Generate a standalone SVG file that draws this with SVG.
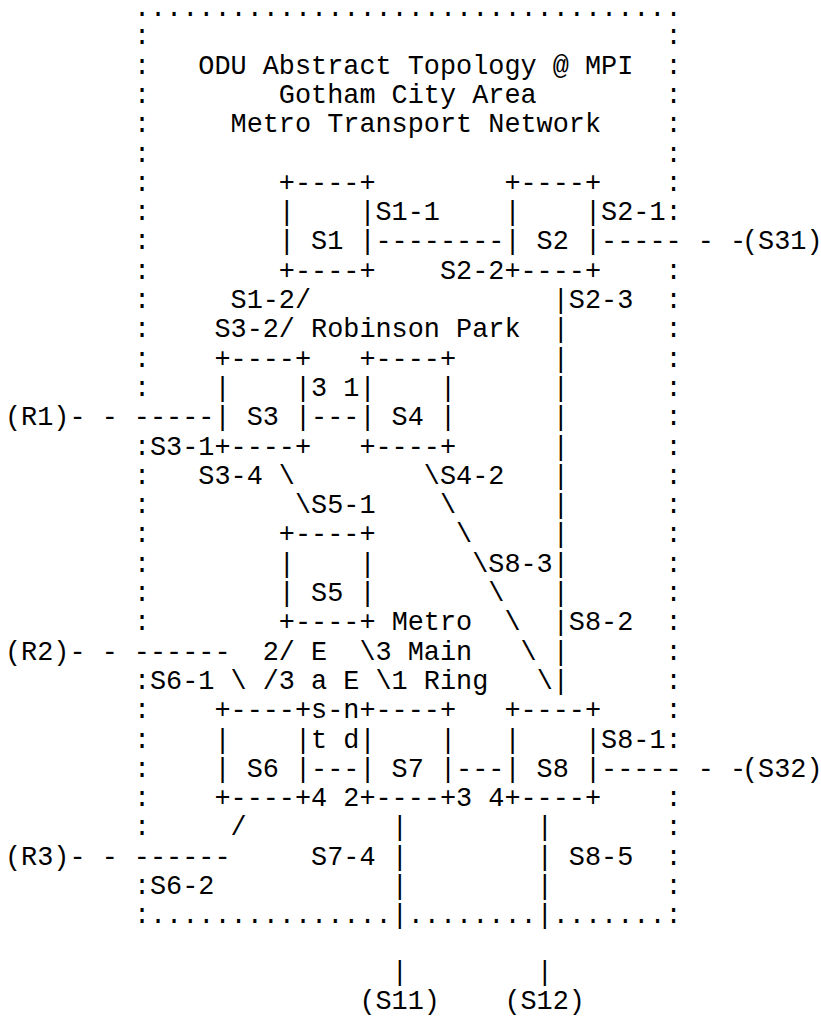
<svg xmlns="http://www.w3.org/2000/svg" width="821" height="1017" viewBox="0 0 821 1017" xml:space="preserve">
<style>
text { font-family: "Liberation Mono", "Courier New", monospace; font-size: 26.85px; fill: #000; white-space: pre; }
</style>
<rect width="821" height="1017" fill="#fff"/>
<g id="frame">
<text>
<tspan x="133.88" y="16">..................................</tspan>
<tspan x="133.88" y="44.3">:</tspan><tspan x="665.51" y="44.3">:</tspan>
<tspan x="133.88" y="73.6">:</tspan><tspan x="665.51" y="73.6">:</tspan>
<tspan x="133.88" y="102.9">:</tspan><tspan x="665.51" y="102.9">:</tspan>
<tspan x="133.88" y="132.2">:</tspan><tspan x="665.51" y="132.2">:</tspan>
<tspan x="133.88" y="161.5">:</tspan><tspan x="665.51" y="161.5">:</tspan>
<tspan x="133.88" y="190.8">:</tspan><tspan x="665.51" y="190.8">:</tspan>
<tspan x="133.88" y="220.1">:</tspan><tspan x="665.51" y="220.1">:</tspan>
<tspan x="133.88" y="249.4">:</tspan>
<tspan x="133.88" y="278.7">:</tspan><tspan x="665.51" y="278.7">:</tspan>
<tspan x="133.88" y="308">:</tspan><tspan x="665.51" y="308">:</tspan>
<tspan x="133.88" y="337.3">:</tspan><tspan x="665.51" y="337.3">:</tspan>
<tspan x="133.88" y="366.6">:</tspan><tspan x="665.51" y="366.6">:</tspan>
<tspan x="133.88" y="395.9">:</tspan><tspan x="665.51" y="395.9">:</tspan>
<tspan x="665.51" y="425.2">:</tspan>
<tspan x="133.88" y="454.5">:</tspan><tspan x="665.51" y="454.5">:</tspan>
<tspan x="133.88" y="483.8">:</tspan><tspan x="665.51" y="483.8">:</tspan>
<tspan x="133.88" y="513.1">:</tspan><tspan x="665.51" y="513.1">:</tspan>
<tspan x="133.88" y="542.4">:</tspan><tspan x="665.51" y="542.4">:</tspan>
<tspan x="133.88" y="571.7">:</tspan><tspan x="665.51" y="571.7">:</tspan>
<tspan x="133.88" y="601">:</tspan><tspan x="665.51" y="601">:</tspan>
<tspan x="133.88" y="630.3">:</tspan><tspan x="665.51" y="630.3">:</tspan>
<tspan x="665.51" y="659.6">:</tspan>
<tspan x="133.88" y="688.9">:</tspan><tspan x="665.51" y="688.9">:</tspan>
<tspan x="133.88" y="718.2">:</tspan><tspan x="665.51" y="718.2">:</tspan>
<tspan x="133.88" y="747.5">:</tspan><tspan x="665.51" y="747.5">:</tspan>
<tspan x="133.88" y="776.8">:</tspan>
<tspan x="133.88" y="806.1">:</tspan><tspan x="665.51" y="806.1">:</tspan>
<tspan x="133.88" y="835.4">:</tspan><tspan x="665.51" y="835.4">:</tspan>
<tspan x="665.51" y="864.7">:</tspan>
<tspan x="133.88" y="894">:</tspan><tspan x="665.51" y="894">:</tspan>
<tspan x="133.88" y="923.3">:...............</tspan><tspan x="407.75" y="923.3">........</tspan><tspan x="552.74" y="923.3">.......:</tspan>
</text>
<text><tspan x="198.32" y="73.6">ODU Abstract Topology @ MPI</tspan><tspan x="278.87" y="102.9">Gotham City Area</tspan><tspan x="230.54" y="132.2">Metro Transport Network</tspan></text>
</g>
<g id="S1"><text><tspan x="278.87" y="190.8">+----+</tspan><tspan x="278.87" y="220.1">|    |</tspan><tspan x="278.87" y="249.4">| S1 |</tspan><tspan x="278.87" y="278.7">+----+</tspan></text></g>
<g id="S2"><text><tspan x="504.41" y="190.8">+----+</tspan><tspan x="504.41" y="220.1">|    |</tspan><tspan x="504.41" y="249.4">| S2 |</tspan><tspan x="504.41" y="278.7">+----+</tspan></text></g>
<g id="S3"><text><tspan x="214.43" y="366.6">+----+</tspan><tspan x="214.43" y="395.9">|    |</tspan><tspan x="214.43" y="425.2">| S3 |</tspan><tspan x="214.43" y="454.5">+----+</tspan></text></g>
<g id="S4"><text><tspan x="359.42" y="366.6">+----+</tspan><tspan x="359.42" y="395.9">|    |</tspan><tspan x="359.42" y="425.2">| S4 |</tspan><tspan x="359.42" y="454.5">+----+</tspan></text></g>
<g id="S5"><text><tspan x="278.87" y="542.4">+----+</tspan><tspan x="278.87" y="571.7">|    |</tspan><tspan x="278.87" y="601">| S5 |</tspan><tspan x="278.87" y="630.3">+----+</tspan></text></g>
<g id="S6"><text><tspan x="214.43" y="718.2">+----+</tspan><tspan x="214.43" y="747.5">|    |</tspan><tspan x="214.43" y="776.8">| S6 |</tspan><tspan x="214.43" y="806.1">+----+</tspan></text></g>
<g id="S7"><text><tspan x="359.42" y="718.2">+----+</tspan><tspan x="359.42" y="747.5">|    |</tspan><tspan x="359.42" y="776.8">| S7 |</tspan><tspan x="359.42" y="806.1">+----+</tspan></text></g>
<g id="S8"><text><tspan x="504.41" y="718.2">+----+</tspan><tspan x="504.41" y="747.5">|    |</tspan><tspan x="504.41" y="776.8">| S8 |</tspan><tspan x="504.41" y="806.1">+----+</tspan></text></g>
<g id="R1"><text x="5" y="425.2">(R1)</text></g>
<g id="R2"><text x="5" y="659.6">(R2)</text></g>
<g id="R3"><text x="5" y="864.7">(R3)</text></g>
<g id="S31"><text x="742" y="249.4">(S31)</text></g>
<g id="S32"><text x="742" y="776.8">(S32)</text></g>
<g id="S11"><text x="359.42" y="1008.5">(S11)</text></g>
<g id="S12"><text x="504.41" y="1008.5">(S12)</text></g>
<g id="connectors">
<text>
<tspan x="375.53" y="220.1">S1-1</tspan>
<tspan x="375.53" y="249.4">--------</tspan>
<tspan x="439.97" y="278.7">S2-2</tspan>
<tspan x="601.07" y="220.1">S2-1</tspan>
<tspan x="601.07" y="249.4">----- - -</tspan>
<tspan x="230.54" y="308">S1-2/</tspan>
<tspan x="214.43" y="337.3">S3-2/</tspan>
<tspan x="311.09" y="337.3">Robinson Park</tspan>
<tspan x="552.74" y="308">|S2-3</tspan>
<tspan x="552.74" y="337.3">|</tspan>
<tspan x="552.74" y="366.6">|</tspan>
<tspan x="552.74" y="395.9">|</tspan>
<tspan x="552.74" y="425.2">|</tspan>
<tspan x="552.74" y="454.5">|</tspan>
<tspan x="552.74" y="483.8">|</tspan>
<tspan x="552.74" y="513.1">|</tspan>
<tspan x="552.74" y="542.4">|</tspan>
<tspan x="552.74" y="571.7">|</tspan>
<tspan x="552.74" y="601">|</tspan>
<tspan x="552.74" y="630.3">|S8-2</tspan>
<tspan x="552.74" y="659.6">|</tspan>
<tspan x="552.74" y="688.9">|</tspan>
<tspan x="311.09" y="395.9">3 1</tspan>
<tspan x="311.09" y="425.2">---</tspan>
<tspan x="69.44" y="425.2">- - -----</tspan>
<tspan x="149.99" y="454.5">S3-1</tspan>
<tspan x="198.32" y="483.8">S3-4 \</tspan>
<tspan x="294.98" y="513.1">\S5-1</tspan>
<tspan x="423.86" y="483.8">\S4-2</tspan>
<tspan x="439.97" y="513.1">\</tspan>
<tspan x="456.08" y="542.4">\</tspan>
<tspan x="472.19" y="571.7">\S8-3</tspan>
<tspan x="488.3" y="601">\</tspan>
<tspan x="504.41" y="630.3">\</tspan>
<tspan x="520.52" y="659.6">\</tspan>
<tspan x="536.63" y="688.9">\</tspan>
<tspan x="391.64" y="630.3">Metro</tspan>
<tspan x="262.76" y="659.6">2/ E  \3 Main</tspan>
<tspan x="69.44" y="659.6">- - ------</tspan>
<tspan x="149.99" y="688.9">S6-1 \ /3 a E \1 Ring</tspan>
<tspan x="311.09" y="718.2">s-n</tspan>
<tspan x="311.09" y="747.5">t d</tspan>
<tspan x="311.09" y="776.8">---</tspan>
<tspan x="311.09" y="806.1">4 2</tspan>
<tspan x="456.08" y="776.8">---</tspan>
<tspan x="456.08" y="806.1">3 4</tspan>
<tspan x="601.07" y="747.5">S8-1</tspan>
<tspan x="601.07" y="776.8">----- - -</tspan>
<tspan x="230.54" y="835.4">/</tspan>
<tspan x="69.44" y="864.7">- - ------</tspan>
<tspan x="149.99" y="894">S6-2</tspan>
<tspan x="391.64" y="835.4">|</tspan>
<tspan x="391.64" y="864.7">|</tspan>
<tspan x="391.64" y="894">|</tspan>
<tspan x="391.64" y="923.3">|</tspan>
<tspan x="391.64" y="980">|</tspan>
<tspan x="311.09" y="864.7">S7-4</tspan>
<tspan x="536.63" y="835.4">|</tspan>
<tspan x="536.63" y="864.7">|</tspan>
<tspan x="536.63" y="894">|</tspan>
<tspan x="536.63" y="923.3">|</tspan>
<tspan x="536.63" y="980">|</tspan>
<tspan x="568.85" y="864.7">S8-5</tspan>
</text>
</g>
</svg>
